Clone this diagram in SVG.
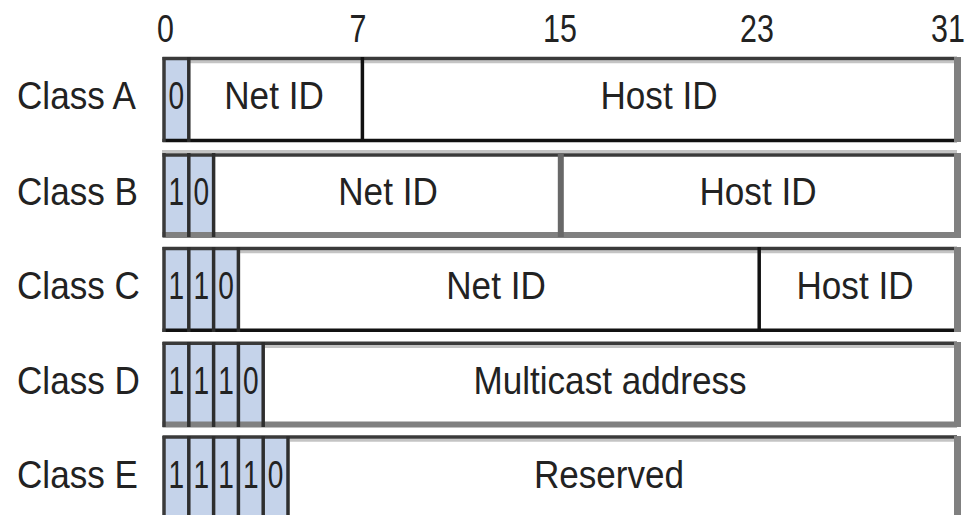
<svg xmlns="http://www.w3.org/2000/svg" width="978" height="515" viewBox="0 0 978 515">
<style>
.t{font-family:"Liberation Sans",Arial,sans-serif;font-size:39px;fill:#222222}
.m{text-anchor:middle}
.box{fill:#ffffff}
.bit{fill:#c5d3ea}
.top{stroke:#3a3a3a;stroke-width:3.5}
.hl{stroke:#c4c4c4;stroke-width:3}
.edge{stroke:#808080;stroke-width:7}
.bk{stroke:#111111;stroke-width:3.5}
.gb{stroke:#808080;stroke-width:6}
.gd{stroke:#686868;stroke-width:6}
.div{stroke:#2e2e2e;stroke-width:3.5}
.lft{stroke:#3a3a3a;stroke-width:3.5}
</style>
<rect width="978" height="515" fill="#ffffff"/>

<g id="scale">
<text class="t m" transform="translate(165.5,41.5) scale(0.78,1)">0</text>
<text class="t m" transform="translate(358,41.5) scale(0.78,1)">7</text>
<text class="t m" transform="translate(560,41.5) scale(0.78,1)">15</text>
<text class="t m" transform="translate(757,41.5) scale(0.78,1)">23</text>
<text class="t m" transform="translate(948,41.5) scale(0.78,1)">31</text>
</g>

<g id="classA">
<rect class="box" x="164" y="59" width="793" height="81.5"/>
<rect class="bit" x="164" y="59" width="24.8" height="81.5"/>
<line class="hl" x1="190" y1="61.8" x2="954" y2="61.8"/>
<line class="top" x1="162.5" y1="58.5" x2="957" y2="58.5"/>
<line class="bk" x1="162.5" y1="140.5" x2="957" y2="140.5"/>
<line class="lft" x1="164" y1="57" x2="164" y2="142"/>
<line class="div" x1="188.8" y1="57" x2="188.8" y2="142"/>
<line class="bk" x1="362.4" y1="57" x2="362.4" y2="142"/>
<line class="edge" x1="957.5" y1="57" x2="957.5" y2="142"/>
<text class="t" transform="translate(17,108.5) scale(0.9,1)">Class A</text>
<text class="t m" transform="translate(176.4,108.5) scale(0.72,1)">0</text>
<text class="t m" transform="translate(274,108.5) scale(0.9,1)">Net ID</text>
<text class="t m" transform="translate(659,108.5) scale(0.9,1)">Host ID</text>
</g>

<g id="classB">
<rect class="box" x="164" y="155" width="793" height="80"/>
<rect class="bit" x="164" y="155" width="49.6" height="80"/>
<line class="hl" x1="162" y1="151.5" x2="957" y2="151.5"/>
<line class="top" x1="162.5" y1="155" x2="957" y2="155"/>
<line class="gb" x1="162.5" y1="235" x2="957" y2="235"/>
<line class="lft" x1="164" y1="153" x2="164" y2="237"/>
<line class="div" x1="188.8" y1="153" x2="188.8" y2="237"/>
<line class="div" x1="213.6" y1="153" x2="213.6" y2="237"/>
<line class="gd" x1="560.8" y1="153" x2="560.8" y2="237"/>
<line class="edge" x1="957.5" y1="153" x2="957.5" y2="238"/>
<text class="t" transform="translate(17,204.5) scale(0.9,1)">Class B</text>
<text class="t m" transform="translate(176.4,204.5) scale(0.72,1)">1</text>
<text class="t m" transform="translate(201.2,204.5) scale(0.72,1)">0</text>
<text class="t m" transform="translate(388,204.5) scale(0.9,1)">Net ID</text>
<text class="t m" transform="translate(758,204.5) scale(0.9,1)">Host ID</text>
</g>

<g id="classC">
<rect class="box" x="164" y="248.5" width="793" height="82"/>
<rect class="bit" x="164" y="248.5" width="74.4" height="82"/>
<line class="hl" x1="240" y1="251.8" x2="954" y2="251.8"/>
<line class="top" x1="162.5" y1="248.5" x2="957" y2="248.5"/>
<line class="bk" x1="162.5" y1="330.3" x2="957" y2="330.3"/>
<line class="lft" x1="164" y1="247" x2="164" y2="332"/>
<line class="div" x1="188.8" y1="247" x2="188.8" y2="332"/>
<line class="div" x1="213.6" y1="247" x2="213.6" y2="332"/>
<line class="div" x1="238.4" y1="247" x2="238.4" y2="332"/>
<line class="bk" x1="759.2" y1="247" x2="759.2" y2="332"/>
<line class="edge" x1="957.5" y1="247" x2="957.5" y2="332"/>
<text class="t" transform="translate(17,298.5) scale(0.9,1)">Class C</text>
<text class="t m" transform="translate(176.4,298.5) scale(0.72,1)">1</text>
<text class="t m" transform="translate(201.2,298.5) scale(0.72,1)">1</text>
<text class="t m" transform="translate(226,298.5) scale(0.72,1)">0</text>
<text class="t m" transform="translate(496,298.5) scale(0.9,1)">Net ID</text>
<text class="t m" transform="translate(855,298.5) scale(0.9,1)">Host ID</text>
</g>

<g id="classD">
<rect class="box" x="164" y="343.3" width="793" height="81"/>
<rect class="bit" x="164" y="343.3" width="99.2" height="81"/>
<line class="hl" x1="265" y1="346.6" x2="954" y2="346.6"/>
<line class="top" x1="162.5" y1="343.3" x2="957" y2="343.3"/>
<line class="gb" x1="162.5" y1="424.5" x2="957" y2="424.5"/>
<line class="lft" x1="164" y1="342" x2="164" y2="427"/>
<line class="div" x1="188.8" y1="342" x2="188.8" y2="427"/>
<line class="div" x1="213.6" y1="342" x2="213.6" y2="427"/>
<line class="div" x1="238.4" y1="342" x2="238.4" y2="427"/>
<line class="div" x1="263.2" y1="342" x2="263.2" y2="427"/>
<line class="edge" x1="957.5" y1="342" x2="957.5" y2="427"/>
<text class="t" transform="translate(17,393.5) scale(0.9,1)">Class D</text>
<text class="t m" transform="translate(176.4,393.5) scale(0.72,1)">1</text>
<text class="t m" transform="translate(201.2,393.5) scale(0.72,1)">1</text>
<text class="t m" transform="translate(226,393.5) scale(0.72,1)">1</text>
<text class="t m" transform="translate(250.8,393.5) scale(0.72,1)">0</text>
<text class="t m" transform="translate(610,393.5) scale(0.9,1)">Multicast address</text>
</g>

<g id="classE">
<rect class="box" x="164" y="437" width="793" height="82"/>
<rect class="bit" x="164" y="437" width="124" height="82"/>
<line class="hl" x1="290" y1="440.3" x2="954" y2="440.3"/>
<line class="top" x1="162.5" y1="437" x2="957" y2="437"/>
<line class="lft" x1="164" y1="436" x2="164" y2="520"/>
<line class="div" x1="188.8" y1="436" x2="188.8" y2="520"/>
<line class="div" x1="213.6" y1="436" x2="213.6" y2="520"/>
<line class="div" x1="238.4" y1="436" x2="238.4" y2="520"/>
<line class="div" x1="263.2" y1="436" x2="263.2" y2="520"/>
<line class="div" x1="288" y1="436" x2="288" y2="520"/>
<line class="edge" x1="957.5" y1="436" x2="957.5" y2="520"/>
<text class="t" transform="translate(17,488) scale(0.9,1)">Class E</text>
<text class="t m" transform="translate(176.4,488) scale(0.72,1)">1</text>
<text class="t m" transform="translate(201.2,488) scale(0.72,1)">1</text>
<text class="t m" transform="translate(226,488) scale(0.72,1)">1</text>
<text class="t m" transform="translate(250.8,488) scale(0.72,1)">1</text>
<text class="t m" transform="translate(275.6,488) scale(0.72,1)">0</text>
<text class="t m" transform="translate(609,488) scale(0.9,1)">Reserved</text>
</g>
</svg>
